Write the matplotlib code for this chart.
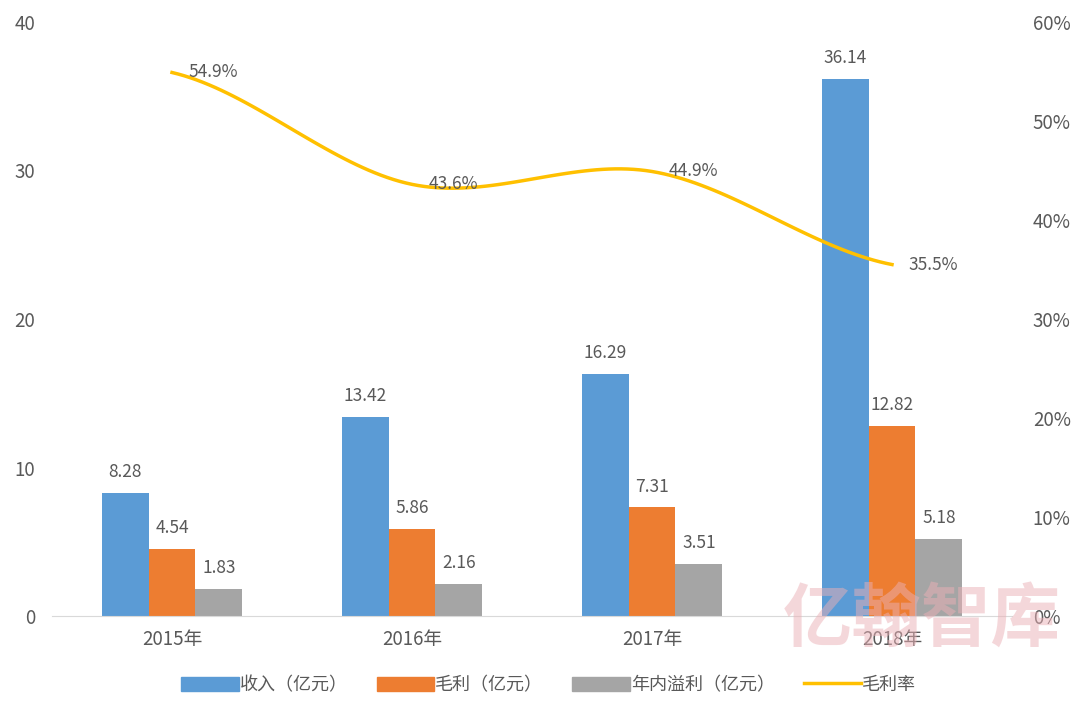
import matplotlib.pyplot as plt
import numpy as np
from matplotlib.patches import Patch
from matplotlib.lines import Line2D

plt.rcParams['font.family'] = ['Noto Sans CJK SC', 'DejaVu Sans']

years = ['2015年', '2016年', '2017年', '2018年']
revenue = [8.28, 13.42, 16.29, 36.14]
gross_profit = [4.54, 5.86, 7.31, 12.82]
annual_surplus = [1.83, 2.16, 3.51, 5.18]
gross_margin = [54.9, 43.6, 44.9, 35.5]

bar_names = ['收入（亿元）', '毛利（亿元）', '年内溢利（亿元）']
line_name = '毛利率'
colors = ['#5B9BD5', '#ED7D31', '#A5A5A5']
line_color = '#FFC000'
text_color = '#595959'


def smooth(xs, ys, n=40, tension=0.5):
    # cardinal spline, similar to Excel's smoothed line
    xs = np.asarray(xs, float)
    ys = np.asarray(ys, float)
    px = np.concatenate([[2 * xs[0] - xs[1]], xs, [2 * xs[-1] - xs[-2]]])
    py = np.concatenate([[ys[0]], ys, [ys[-1]]])
    out_x, out_y = [], []
    for i in range(1, len(px) - 2):
        t = np.linspace(0, 1, n)
        m1x = tension * (px[i + 1] - px[i - 1])
        m2x = tension * (px[i + 2] - px[i])
        m1y = tension * (py[i + 1] - py[i - 1])
        m2y = tension * (py[i + 2] - py[i])
        h00 = 2 * t**3 - 3 * t**2 + 1
        h10 = t**3 - 2 * t**2 + t
        h01 = -2 * t**3 + 3 * t**2
        h11 = t**3 - t**2
        out_x.append(h00 * px[i] + h10 * m1x + h01 * px[i + 1] + h11 * m2x)
        out_y.append(h00 * py[i] + h10 * m1y + h01 * py[i + 1] + h11 * m2y)
    return np.concatenate(out_x), np.concatenate(out_y)


fig = plt.figure(figsize=(10.8, 7.14), dpi=100)
ax = fig.add_axes([52 / 1080, 1 - 616 / 714, 960 / 1080, 594 / 714])
ax2 = ax.twinx()

x = np.arange(len(years))
w = 0.195
for k, (vals, c) in enumerate(zip([revenue, gross_profit, annual_surplus], colors)):
    pos = x + (k - 1) * w
    ax.bar(pos, vals, width=w, color=c, zorder=2)
    for xp, v in zip(pos, vals):
        ax.text(xp, v + 0.8, f'{v:.2f}', ha='center', va='bottom',
                fontsize=12.5, color=text_color)

ax.set_xlim(-0.5, len(years) - 0.5)
ax.set_ylim(0, 40)
ax.set_yticks([0, 10, 20, 30, 40])
ax.set_xticks(x)
ax.set_xticklabels(years)
ax.tick_params(length=0, labelsize=13.5, colors=text_color)
ax.tick_params(axis='y', pad=12)
ax.tick_params(axis='x', pad=9)
for s in ['top', 'right', 'left']:
    ax.spines[s].set_visible(False)
ax.spines['bottom'].set_color('#D9D9D9')

sx, sy = smooth(x, gross_margin)
ax2.plot(sx, sy, color=line_color, lw=2.5, zorder=3)
for xp, v in zip(x, gross_margin):
    ax2.text(xp + 0.07, v, f'{v:.1f}%', ha='left', va='center',
             fontsize=12.5, color=text_color)
ax2.set_ylim(0, 60)
ax2.set_yticks(range(0, 61, 10))
ax2.set_yticklabels([f'{t}%' for t in range(0, 61, 10)])
ax2.tick_params(length=0, labelsize=13.5, colors=text_color, pad=15)
for s in ['top', 'right', 'left', 'bottom']:
    ax2.spines[s].set_visible(False)

handles = [Patch(color=c, label=n) for c, n in zip(colors, bar_names)]
handles.append(Line2D([0], [0], color=line_color, lw=2.5, label=line_name))
fig.legend(handles=handles, loc='center', bbox_to_anchor=(0.508, 1 - 685 / 714),
           ncol=4, frameon=False, fontsize=13, labelcolor=text_color,
           handlelength=3.2, handleheight=0.8, handletextpad=0.05, columnspacing=1.6)

# watermark
fig.text(0.982, 1 - 620 / 714, '亿翰智库', ha='right', va='center', fontsize=50,
         color='#EBB0B6', alpha=0.5, fontweight='bold', zorder=10)

fig.savefig('out.png', dpi=100)
